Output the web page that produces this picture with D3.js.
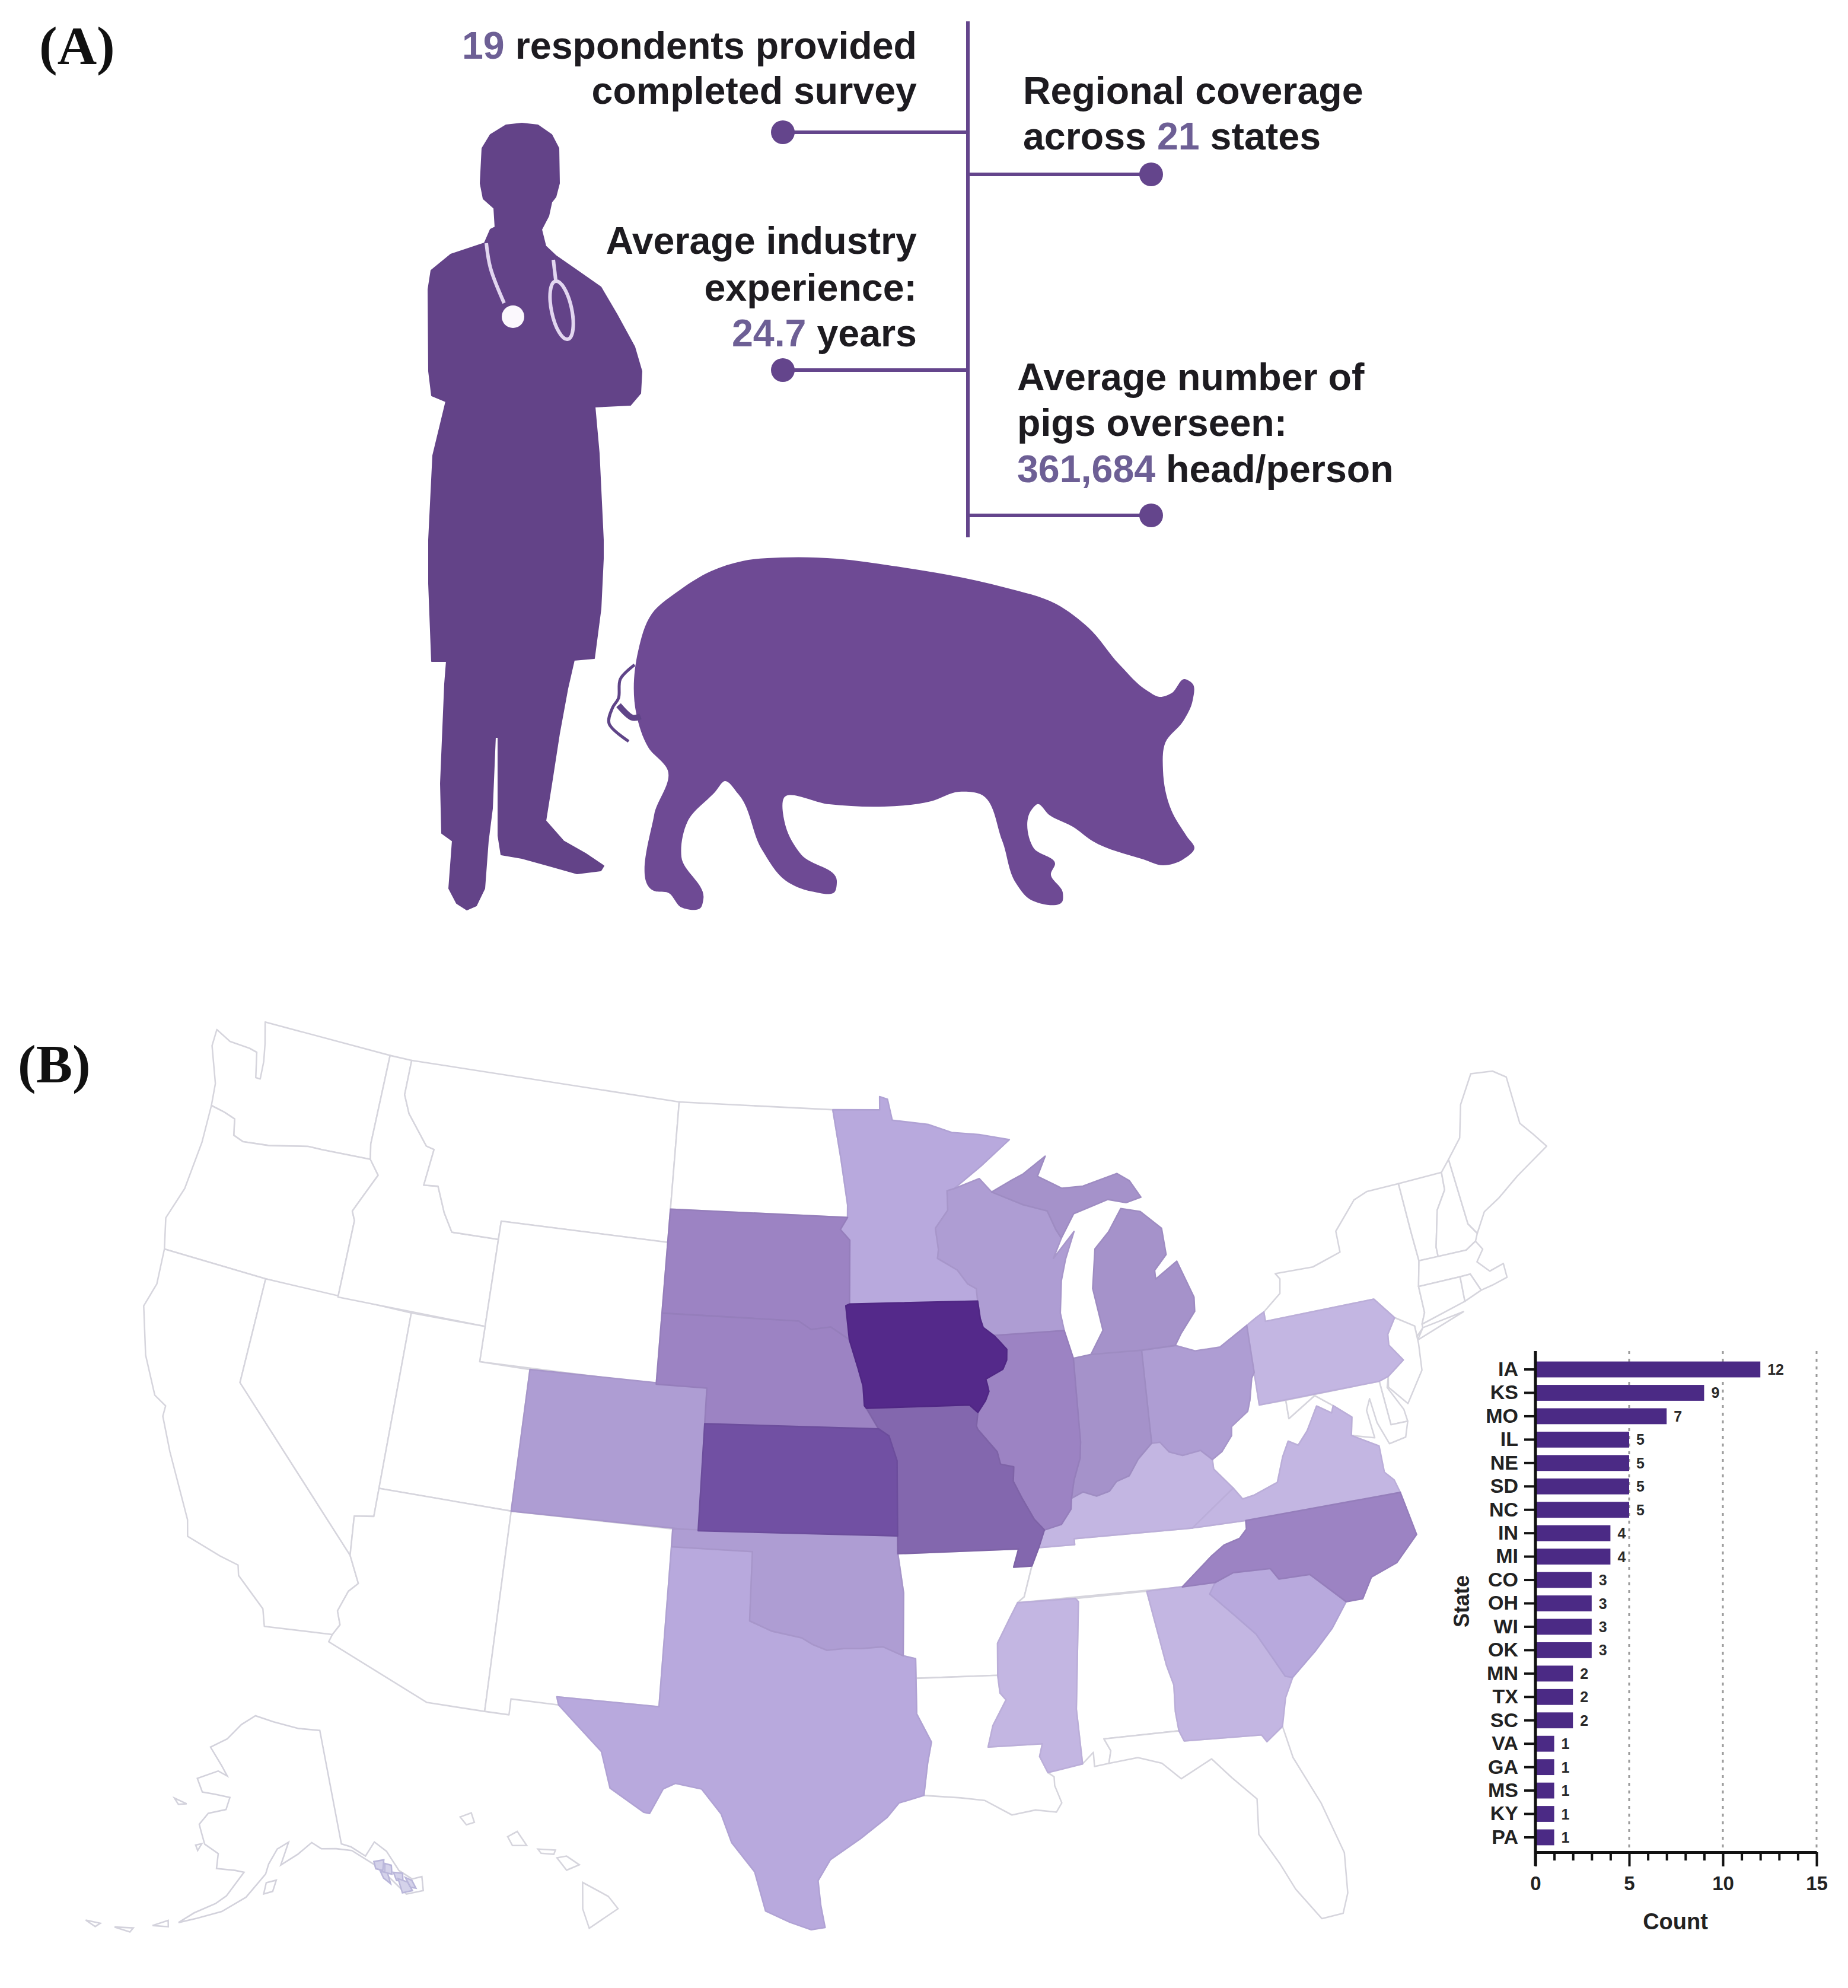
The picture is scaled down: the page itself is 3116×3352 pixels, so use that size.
<!DOCTYPE html>
<html>
<head>
<meta charset="utf-8">
<script src="https://cdnjs.cloudflare.com/ajax/libs/d3/7.8.5/d3.min.js"></script>
<style>
  body { margin: 0; background: #fff; }
  text { font-family: "Liberation Sans", Arial, sans-serif; }
</style>
</head>
<body>
<svg id="chart" width="3116" height="3352"></svg>
<script>
// bar chart values
const stateCodes = ["IA","KS","MO","IL","NE","SD","NC","IN","MI","CO","OH","WI","OK","MN","TX","SC","VA","GA","MS","KY","PA"];
const stateCounts = [12,9,7,5,5,5,5,4,4,3,3,3,3,2,2,2,1,1,1,1,1];
const countTicks = [0,5,10,15];
const countMinorTicks = [1,2,3,4,6,7,8,9,11,12,13,14];
const gridTicks = [5,10,15];

// survey text, [number, rest] pieces
const leftLines = [
  [["19",true],[" respondents provided",false]],
  [["completed survey",false]],
  [["Average industry",false]],
  [["experience:",false]],
  [["24.7",true],[" years",false]]
];
const rightLines = [
  [["Regional coverage",false]],
  [["across ",false],["21",true],[" states",false]],
  [["Average number of",false]],
  [["pigs overseen:",false]],
  [["361,684",true],[" head/person",false]]
];

// shared borders (lon, lat)
const mnWi = [[-92.0,46.7],[-92.3,46.65],[-92.3,46.1],[-92.85,45.6],[-92.75,45.0],[-92.8,44.75],[-92.0,44.4],[-91.6,44.0],[-91.25,43.85],[-91.22,43.5]];
const iaWi = [[-91.22,43.5],[-91.15,43.0],[-91.05,42.75],[-90.64,42.51]];
const iaIl = [[-90.64,42.51],[-90.42,42.33],[-90.15,42.1],[-90.18,41.8],[-90.35,41.55],[-91.05,41.3],[-91.0,41.15],[-90.95,40.95],[-91.1,40.7],[-91.42,40.38]];
const moIl = [[-91.42,40.38],[-91.5,40.0],[-91.45,39.9],[-90.75,39.25],[-90.65,38.9],[-90.15,38.8],[-90.2,38.4],[-89.9,37.9],[-89.5,37.3],[-89.15,36.98]];
const arTn = [[-89.7,36.0],[-90.05,35.15],[-90.3,35.0]];
const arMs = [[-90.3,35.0],[-90.6,34.6],[-91.1,33.9],[-91.15,33.0]];
const laMs = [[-91.15,33.0],[-91.1,32.5],[-90.9,32.3],[-91.4,31.6],[-91.6,31.0],[-89.73,31.0],[-89.85,30.65],[-89.6,30.18]];
const ilKy = [[-89.15,36.98],[-88.5,37.1],[-88.1,37.5],[-88.05,37.8]];
const inKy = [[-88.05,37.8],[-87.6,37.95],[-87.1,37.8],[-86.6,37.9],[-86.3,38.15],[-85.8,38.27],[-85.4,38.7],[-84.82,39.1]];
const ohKy = [[-84.82,39.1],[-84.5,39.1],[-84.2,38.8],[-83.7,38.65],[-83.0,38.72],[-82.6,38.42]];
const ohWv = [[-82.6,38.42],[-82.2,38.6],[-81.75,39.0],[-81.7,39.25],[-81.0,39.6],[-80.85,39.9],[-80.65,40.5],[-80.52,40.64]];
const back = a => a.slice().reverse();

// state outlines (lon, lat)
const WA = [[-124.7,48.38],[-124.0,48.17],[-123.1,48.15],[-122.75,48.1],[-122.5,47.4],[-122.3,47.4],[-122.35,47.9],[-122.5,48.4],[-122.75,49.0],[-117.03,49.0],[-117.04,46.42],[-116.92,45.99],[-119.0,45.93],[-119.6,45.92],[-121.2,45.65],[-122.3,45.55],[-122.75,45.65],[-122.9,46.1],[-123.4,46.2],[-124.0,46.27],[-124.1,46.9],[-124.7,47.9]];
const OR = [[-124.0,46.27],[-123.4,46.2],[-122.9,46.1],[-122.75,45.65],[-122.3,45.55],[-121.2,45.65],[-119.6,45.92],[-119.0,45.93],[-116.92,45.99],[-116.46,45.6],[-116.85,45.0],[-117.2,44.45],[-117.03,44.2],[-117.03,42.0],[-120,42],[-124.2,42],[-124.5,42.85],[-124.1,43.8],[-123.95,45.2]];
const CA = [[-124.2,42],[-120,42],[-120,39],[-114.63,35.0],[-114.15,34.27],[-114.45,34.0],[-114.7,33.4],[-114.52,33.03],[-114.72,32.72],[-117.12,32.53],[-117.3,33.0],[-118.4,33.75],[-118.5,34.03],[-119.2,34.15],[-120.5,34.45],[-120.65,34.9],[-121.9,36.6],[-122.5,37.5],[-122.5,37.8],[-123.0,38.0],[-123.75,39.0],[-124.35,40.3],[-124.1,41.0]];
const NV = [[-120,42],[-114.04,42],[-114.04,36.2],[-114.75,36.1],[-114.63,35.0],[-120,39]];
const ID = [[-117.03,49],[-116.05,49],[-116.05,48.0],[-115.7,47.5],[-114.7,46.7],[-114.35,46.65],[-114.5,45.6],[-113.9,45.65],[-113.45,44.95],[-113.0,44.45],[-111.05,44.48],[-111.05,42],[-117.03,42],[-117.03,44.2],[-117.2,44.45],[-116.85,45.0],[-116.46,45.6],[-116.92,45.99],[-117.04,46.42]];
const MT = [[-116.05,49],[-104.05,49],[-104.05,45],[-111.05,45],[-111.05,44.48],[-113.0,44.45],[-113.45,44.95],[-113.9,45.65],[-114.5,45.6],[-114.35,46.65],[-114.7,46.7],[-115.7,47.5],[-116.05,48.0]];
const WY = [[-111.05,45],[-104.05,45],[-104.05,41],[-111.05,41]];
const UT = [[-114.04,42],[-111.05,42],[-111.05,41],[-109.05,41],[-109.05,37],[-114.04,37]];
const AZ = [[-114.04,37],[-109.05,37],[-109.05,31.33],[-111.07,31.33],[-114.8,32.5],[-114.72,32.72],[-114.52,33.03],[-114.7,33.4],[-114.45,34.0],[-114.15,34.27],[-114.63,35.0],[-114.75,36.1],[-114.04,36.2]];
const CO = [[-109.05,41],[-102.05,41],[-102.05,37],[-109.05,37]];
const NM = [[-109.05,37],[-103.0,37],[-103.04,32],[-106.62,32],[-106.53,31.78],[-108.2,31.78],[-108.2,31.33],[-109.05,31.33]];
const ND = [[-104.05,49],[-97.23,49],[-96.85,47.6],[-96.55,46.3],[-96.55,45.94],[-104.05,45.94]];
const SD = [[-104.05,45.94],[-96.55,45.94],[-96.85,45.6],[-96.45,45.3],[-96.45,43.5],[-96.6,43.45],[-96.45,42.5],[-97.2,42.85],[-98.0,42.77],[-98.5,43.0],[-104.05,43]];
const NE = [[-104.05,43],[-98.5,43.0],[-98.0,42.77],[-97.2,42.85],[-96.45,42.5],[-96.1,41.7],[-95.9,41.2],[-95.85,40.65],[-95.3,40],[-102.05,40],[-102.05,41],[-104.05,41]];
const KS = [[-102.05,40],[-95.3,40],[-94.9,39.8],[-94.6,39.1],[-94.62,37],[-102.05,37]];
const OK = [[-103,37],[-94.62,37],[-94.62,36.5],[-94.43,35.4],[-94.48,33.64],[-95.2,33.9],[-96.0,33.85],[-96.6,33.85],[-97.2,33.8],[-97.7,33.95],[-98.1,34.13],[-99.2,34.3],[-100,34.56],[-100,36.5],[-103,36.5]];
const TX = [[-103,36.5],[-100,36.5],[-100,34.56],[-99.2,34.3],[-98.1,34.13],[-97.7,33.95],[-97.2,33.8],[-96.6,33.85],[-96,33.85],[-95.2,33.9],[-94.48,33.64],[-94.04,33.55],[-94.04,33.0],[-94.04,32.0],[-93.55,31.2],[-93.7,30.6],[-93.85,29.7],[-94.7,29.5],[-95.1,29.1],[-96.0,28.5],[-97.0,27.9],[-97.4,27.3],[-97.3,26.6],[-97.15,25.97],[-97.6,25.9],[-98.3,26.1],[-99.1,26.4],[-99.5,27.5],[-100.3,28.3],[-100.7,29.1],[-101.4,29.77],[-102.3,29.88],[-102.7,29.7],[-103.1,28.98],[-103.3,29.0],[-104.5,29.6],[-104.9,30.6],[-106.0,31.4],[-106.53,31.78],[-106.62,32],[-103.04,32]];
const MN = [[-97.23,49],[-95.15,49],[-95.15,49.38],[-94.8,49.3],[-94.6,48.7],[-93.0,48.55],[-92.0,48.3],[-90.8,48.2],[-89.5,48.0],[-90.8,47.3],...mnWi,[-96.45,43.5],[-96.45,45.3],[-96.85,45.6],[-96.55,45.94],[-96.55,46.3],[-96.85,47.6]];
const IA = [[-96.45,43.5],...iaWi,...iaIl,[-91.73,40.6],[-95.77,40.58],[-95.85,40.65],[-95.9,41.2],[-96.1,41.7],[-96.45,42.5],[-96.6,43.45]];
const MO = [[-95.77,40.58],[-91.73,40.6],...moIl,[-89.4,36.5],[-89.7,36],[-90.37,36],[-90.15,36.5],[-94.62,36.5],[-94.62,37],[-94.6,39.1],[-94.9,39.8],[-95.3,40]];
const AR = [[-94.62,36.5],[-90.15,36.5],[-90.37,36],...arTn,...arMs,[-94.04,33.0],[-94.04,33.55],[-94.48,33.64],[-94.43,35.4]];
const LA = [[-94.04,33],...laMs,[-89.4,30.05],[-89.4,29.8],[-89.2,29.3],[-89.4,29.05],[-90.1,29.15],[-90.9,29.05],[-91.8,29.5],[-92.6,29.6],[-93.85,29.7],[-93.7,30.6],[-93.55,31.2],[-94.04,32]];
const WI = [[-92.0,46.7],[-90.9,46.95],[-90.4,46.55],[-89.1,46.13],[-88.1,45.9],[-87.8,45.35],[-87.6,45.1],[-88.0,44.55],[-87.05,45.25],[-87.5,44.5],[-87.75,43.9],[-87.9,43.0],[-87.8,42.5],...back(iaWi),...back(mnWi).slice(1)];
const IL = [[-87.8,42.5],[-87.53,41.7],[-87.53,39.35],[-87.6,38.9],[-87.9,38.3],...back(ilKy),...back(moIl).slice(1),...back(iaIl).slice(1)];
const IN = [[-87.53,41.7],[-86.82,41.76],[-84.8,41.76],...back(inKy),[-87.9,38.3],[-87.6,38.9],[-87.53,39.35]];
const OH = [[-84.8,41.72],[-83.45,41.73],[-82.7,41.5],[-81.7,41.5],[-80.52,41.98],...back(ohWv),...back(ohKy).slice(1)];
const KY = [...ilKy,...inKy.slice(1),...ohKy.slice(1),[-82.6,38.15],[-81.97,37.54],[-83.67,36.6],[-88.07,36.67],[-88.07,36.5],[-89.4,36.5]];
const TN = [[-89.7,36],[-89.4,36.5],[-88.07,36.5],[-88.07,36.67],[-83.67,36.6],[-81.68,36.59],[-81.7,36.35],[-82.0,36.12],[-82.6,36.0],[-83.1,35.75],[-84.3,35.0],[-90.3,35.0],[-90.05,35.15]];
const MS = [[-90.3,35],[-88.2,35],[-88.1,34.9],[-88.47,31.9],[-88.4,30.35],...back(laMs).slice(0,-1),[-91.15,33],[-91.1,33.9],[-90.6,34.6]];
const AL = [[-88.2,35],[-85.6,35],[-85.18,32.87],[-85.0,32.3],[-85.05,31.55],[-85.0,31.0],[-87.6,31.0],[-87.4,30.65],[-87.5,30.3],[-88.0,30.25],[-88.0,30.65],[-88.4,30.35],[-88.47,31.9],[-88.1,34.9]];
const GA = [[-85.6,35],[-83.1,35],[-83.35,34.7],[-82.55,34.0],[-81.9,33.4],[-81.4,32.6],[-81.1,32.1],[-80.85,32.03],[-81.2,31.5],[-81.45,30.72],[-82.05,30.36],[-82.2,30.57],[-84.86,30.7],[-85,31],[-85.05,31.55],[-85,32.3],[-85.18,32.87]];
const FL = [[-87.6,31],[-85,31],[-84.86,30.7],[-82.2,30.57],[-82.05,30.36],[-81.45,30.72],[-81.25,29.8],[-80.55,28.4],[-80.05,26.9],[-80.15,25.75],[-80.4,25.2],[-81.1,25.15],[-81.8,26.1],[-82.2,26.9],[-82.75,27.8],[-82.65,28.8],[-83.4,29.5],[-84.0,30.1],[-85.1,29.65],[-85.7,30.15],[-86.5,30.38],[-87.5,30.3],[-87.4,30.65]];
const SC = [[-83.1,35],[-82.4,35.2],[-81.05,35.15],[-80.8,34.82],[-79.67,34.8],[-78.55,33.86],[-79.2,33.2],[-79.9,32.67],[-80.85,32.03],[-81.1,32.1],[-81.4,32.6],[-81.9,33.4],[-82.55,34.0],[-83.35,34.7]];
const NC = [[-84.3,35],[-83.1,35.75],[-82.6,36.0],[-82,36.12],[-81.7,36.35],[-81.68,36.59],[-75.87,36.55],[-75.6,35.3],[-76.5,34.65],[-77.5,34.4],[-77.95,33.85],[-78.55,33.86],[-79.67,34.8],[-80.8,34.82],[-81.05,35.15],[-82.4,35.2],[-83.1,35]];
const VA = [[-83.67,36.6],[-81.97,37.54],[-81.68,37.2],[-81.25,37.25],[-80.3,37.5],[-79.95,38.18],[-79.65,38.58],[-79.3,38.42],[-78.87,38.77],[-78.35,39.4],[-77.83,39.13],[-77.72,39.32],[-77.1,38.9],[-77.25,38.4],[-76.3,37.95],[-76.3,37.2],[-76.0,36.93],[-75.87,36.55],[-81.68,36.59]];
const WV = [...ohWv,[-80.52,39.72],[-79.48,39.72],[-79.48,39.2],[-78.35,39.7],[-77.72,39.32],[-77.83,39.13],[-78.35,39.4],[-78.87,38.77],[-79.3,38.42],[-79.65,38.58],[-79.95,38.18],[-80.3,37.5],[-81.25,37.25],[-81.68,37.2],[-81.97,37.54],[-82.6,38.15]];
const PA = [[-80.52,41.98],[-80.1,42.15],[-79.76,42.27],[-79.76,42],[-75.35,42],[-74.7,41.36],[-75.1,40.95],[-75.15,40.65],[-74.72,40.15],[-75.42,39.8],[-75.8,39.72],[-80.52,39.72]];
const NY = [[-79.76,42.27],[-79.0,42.7],[-78.9,43.1],[-79.05,43.27],[-77.5,43.25],[-76.3,43.5],[-76.3,44.1],[-75.3,44.85],[-74.7,45],[-73.35,45],[-73.3,43.6],[-73.25,42.75],[-73.5,42.05],[-73.5,41.3],[-73.7,41.0],[-73.7,40.9],[-74.0,40.7],[-74.0,41.0],[-74.7,41.36],[-75.35,42],[-79.76,42]];
const LI = [[-74.0,40.6],[-72.0,41.05],[-73.7,40.9]];
const VT = [[-73.35,45],[-71.5,45],[-71.55,44.5],[-72.05,44.0],[-72.45,43.0],[-72.46,42.73],[-73.25,42.75],[-73.3,43.6]];
const NH = [[-71.5,45],[-71.08,45.3],[-70.97,43.4],[-70.7,43.07],[-70.85,42.87],[-71.3,42.7],[-72.46,42.73],[-72.45,43.0],[-72.05,44.0],[-71.55,44.5]];
const ME = [[-71.08,45.3],[-70.4,45.8],[-70.0,46.7],[-69.23,47.46],[-68.3,47.35],[-67.8,47.07],[-67.8,45.7],[-67.4,45.3],[-67.0,44.85],[-68.5,44.3],[-69.5,43.85],[-70.2,43.6],[-70.7,43.07],[-70.97,43.4]];
const MA = [[-73.5,42.05],[-73.25,42.75],[-71.3,42.7],[-70.85,42.87],[-70.65,42.6],[-71.0,42.3],[-70.6,41.95],[-70.0,42.05],[-70.0,41.65],[-70.65,41.55],[-71.12,41.5],[-71.38,42.02],[-71.8,42.02]];
const CT = [[-73.5,42.05],[-71.8,42.02],[-71.85,41.32],[-73.7,41.0],[-73.5,41.3]];
const RI = [[-71.8,42.02],[-71.38,42.02],[-71.12,41.5],[-71.85,41.32]];
const NJ = [[-74.7,41.36],[-74.0,41.0],[-74.0,40.5],[-74.1,39.75],[-74.9,38.93],[-75.5,39.5],[-75.42,39.8],[-74.72,40.15],[-75.15,40.65],[-75.1,40.95]];
const DE = [[-75.8,39.72],[-75.42,39.8],[-75.55,39.5],[-75.1,38.8],[-75.05,38.45],[-75.7,38.46]];
const MD = [[-79.48,39.72],[-75.8,39.72],[-75.7,38.46],[-75.05,38.45],[-75.25,38.03],[-75.9,37.95],[-76.2,38.6],[-76.3,39.3],[-76.5,39.0],[-76.4,38.2],[-77.25,38.4],[-77.1,38.9],[-77.72,39.32],[-78.35,39.7],[-79.48,39.2]];
const MIlower = [[-86.82,41.76],[-86.25,42.4],[-86.5,43.6],[-86.25,44.7],[-85.6,45.15],[-85.0,45.75],[-84.2,45.6],[-83.4,45.05],[-83.35,44.3],[-83.9,43.9],[-83.9,43.65],[-82.95,44.07],[-82.45,43.0],[-82.5,42.6],[-83.15,42.05],[-83.45,41.73],[-84.8,41.72]];
const MIupper = [[-90.4,46.55],[-89.1,46.13],[-88.1,45.9],[-87.8,45.35],[-87.6,45.1],[-87.0,45.75],[-85.5,46.05],[-84.75,45.9],[-84.1,46.0],[-84.5,46.5],[-85.0,46.75],[-86.5,46.5],[-87.4,46.5],[-88.4,46.9],[-88.0,47.45],[-89.0,47.0],[-89.5,46.85]];
const AK = [[-141,69.65],[-141,60.3],[-139.5,59.9],[-137.5,58.9],[-135.5,59.8],[-134,58.8],[-133,57],[-131.5,56],[-130,55.9],[-130.5,54.8],[-133,55],[-134.5,56.5],[-136,57.8],[-137.5,58.6],[-139.5,59.6],[-142,60],[-144.5,60.2],[-146,60.8],[-148.5,60],[-151.5,59.2],[-150,61],[-152,60.5],[-153.5,59.3],[-154,58.5],[-157,56.6],[-160.5,55.3],[-164,54.5],[-166.5,53.9],[-164.5,54.9],[-161.5,55.9],[-160,56.6],[-157.5,58.6],[-159,58.7],[-162,58.7],[-162,59.9],[-164.5,60.5],[-165.5,61.5],[-166,62],[-164.7,63],[-161.5,63.5],[-161,64.5],[-164,64.6],[-166.5,64.6],[-168,65.6],[-164,66.5],[-162,66.2],[-163.5,67],[-166.5,68.3],[-163,69.2],[-160,70.5],[-156.6,71.3],[-152,70.8],[-146,70.1]];
const akIslands = [
  [[-153.9,57.8],[-152.3,58],[-152.9,57.1],[-154.3,56.9]],
  [[-170,53.2],[-168,53.9],[-167.8,53.4]],
  [[-175,52.2],[-172.5,52.6],[-172.8,52.2]],
  [[-179,51.9],[-177,52.1],[-177.5,51.7]],
  [[-166,60.3],[-165,60.5],[-165.5,59.9]],
  [[-171.5,63.6],[-169,63.4],[-170.5,63.2]]
];
const akPanhandleIslands = [
  [[-136.4,58.3],[-134.8,58.2],[-135.4,57.4],[-136.4,57.7]],
  [[-134.8,57.9],[-133.9,57.6],[-134.2,56.9],[-135.2,57.2]],
  [[-135.8,57.4],[-134.8,57.1],[-134.8,56.2],[-135.6,56.8]],
  [[-133.9,57],[-132.6,56.7],[-132.9,56.1],[-133.8,56.3]],
  [[-133.5,56.4],[-132.3,55.9],[-132,55.1],[-133.5,55.2]],
  [[-132.4,56.3],[-131.6,55.9],[-131.4,55.2],[-132.1,55.4]]
];
const hiIslands = [
  [[-159.75,22.1],[-159.4,22.22],[-159.3,21.95],[-159.55,21.88]],
  [[-158.25,21.55],[-157.95,21.7],[-157.65,21.3],[-158.1,21.3]],
  [[-157.3,21.2],[-156.75,21.17],[-156.8,21.05],[-157.2,21.08]],
  [[-156.7,20.95],[-156.4,21.0],[-156.0,20.75],[-156.4,20.6]],
  [[-155.9,20.25],[-155.1,19.85],[-154.8,19.5],[-155.7,18.95],[-155.9,19.5]]
];

const contiguous = [["WA",WA],["OR",OR],["CA",CA],["NV",NV],["ID",ID],["MT",MT],["WY",WY],["UT",UT],["AZ",AZ],["CO",CO],["NM",NM],["ND",ND],["SD",SD],["NE",NE],["KS",KS],["OK",OK],["TX",TX],["MN",MN],["IA",IA],["MO",MO],["AR",AR],["LA",LA],["WI",WI],["IL",IL],["IN",IN],["OH",OH],["KY",KY],["TN",TN],["MS",MS],["AL",AL],["GA",GA],["FL",FL],["SC",SC],["NC",NC],["VA",VA],["WV",WV],["PA",PA],["NY",NY],["NY",LI],["VT",VT],["NH",NH],["ME",ME],["MA",MA],["CT",CT],["RI",RI],["NJ",NJ],["DE",DE],["MD",MD],["MI",MIlower],["MI",MIupper]];

// silhouettes, page pixels
const doctorOutline = [[880,208],[907,211],[930,227],[942,250],[943,309],[937,332],[930,341],[925,364],[913,387],[920,415],[937,431],[973,456],[1013,484],[1040,530],[1070,585],[1082,626],[1080,663],[1063,683],[1003,686],[1010,764],[1017,910],[1017,942],[1013,1026],[1002,1110],[968,1113],[957,1161],[943,1237],[930,1321],[920,1384],[950,1418],[987,1439],[1018,1460],[1013,1468],[973,1473],[927,1460],[880,1447],[845,1441],[840,1409],[840,1243],[835,1243],[830,1363],[823,1418],[817,1498],[803,1527],[787,1534],[770,1523],[757,1498],[763,1418],[745,1405],[743,1321],[750,1153],[753,1115],[728,1115],[723,984],[723,910],[730,768],[752,677],[728,667],[723,626],[722,488],[727,456],[760,429],[817,410],[827,387],[835,383],[833,351],[815,335],[810,309],[813,250],[827,227],[853,211]];
const pigOutline = [[1318,940],[1411,942],[1504,954],[1597,969],[1696,991],[1782,1019],[1835,1058],[1888,1121],[1935,1165],[1955,1175],[1975,1169],[1998,1145],[2011,1153],[2011,1181],[1995,1216],[1965,1252],[1961,1299],[1975,1366],[2001,1410],[2014,1430],[1995,1449],[1961,1459],[1928,1449],[1842,1418],[1809,1394],[1769,1374],[1749,1356],[1739,1366],[1743,1430],[1779,1457],[1772,1473],[1792,1505],[1792,1518],[1736,1516],[1713,1489],[1690,1418],[1653,1339],[1617,1335],[1570,1351],[1491,1360],[1398,1356],[1322,1345],[1325,1394],[1351,1441],[1411,1485],[1408,1503],[1368,1503],[1325,1485],[1285,1433],[1245,1339],[1222,1317],[1206,1335],[1159,1386],[1149,1445],[1186,1516],[1182,1530],[1149,1530],[1126,1505],[1106,1503],[1103,1374],[1126,1299],[1093,1260],[1073,1204],[1076,1098],[1099,1035],[1146,995],[1199,963],[1252,946]];
const pigTail = [[1070,1121],[1046,1145],[1043,1177],[1033,1193],[1027,1220],[1060,1250]];
const pigKnot = [[1043,1189],[1066,1210],[1080,1208]];
const tubeLeft = [[820,410],[827,452],[850,511]];
const tubeRight = [[933,438],[937,472]];

const ink = "#1d1b20";
const purple = "#64458c";
const doctorColor = "#634388";
const pigColor = "#6e4a94";
const numberColor = "#6d5f95";
const tubeColor = "#e2d6f0";
const svg = d3.select("#chart");

// ---- panel letters
svg.append("text").attr("x", 66).attr("y", 108).text("(A)")
  .style("font-family", "'Liberation Serif', serif").style("font-weight", 700).style("font-size", "92px").attr("fill", "#111");
svg.append("text").attr("x", 30).attr("y", 1825).text("(B)")
  .style("font-family", "'Liberation Serif', serif").style("font-weight", 700).style("font-size", "92px").attr("fill", "#111");

// ---- panel A
const art = svg.append("g");
const straight = d3.line();
const smooth = d3.line().curve(d3.curveCatmullRomClosed.alpha(1));
const open = d3.line().curve(d3.curveCatmullRom.alpha(0.5));
art.append("path").attr("d", straight(doctorOutline) + "Z").attr("fill", doctorColor).attr("stroke", doctorColor).attr("stroke-width", 2).attr("stroke-linejoin", "round");
art.append("path").attr("d", smooth(pigOutline)).attr("fill", pigColor);
art.append("path").attr("d", open(pigTail)).attr("fill", "none").attr("stroke", "#5f4488").attr("stroke-width", 5);
art.append("path").attr("d", open(pigKnot)).attr("fill", "none").attr("stroke", "#5f4488").attr("stroke-width", 10);
art.selectAll("path.tube").data([tubeLeft, tubeRight]).enter().append("path").attr("class", "tube")
  .attr("d", open).attr("fill", "none").attr("stroke", tubeColor).attr("stroke-width", 6);
art.append("circle").attr("cx", 865).attr("cy", 534).attr("r", 19).attr("fill", "#fbf8fd");
art.append("ellipse").attr("transform", "translate(947,523) rotate(-12)").attr("rx", 17).attr("ry", 50)
  .attr("fill", "none").attr("stroke", tubeColor).attr("stroke-width", 6);

const stemX = 1632, leftDotX = 1320, rightDotX = 1941;
const branches = [[223, leftDotX], [624, leftDotX], [294, rightDotX], [869, rightDotX]];
svg.append("line").attr("x1", stemX).attr("x2", stemX).attr("y1", 36).attr("y2", 906).attr("stroke", purple).attr("stroke-width", 6);
svg.selectAll("line.branch").data(branches).enter().append("line").attr("class", "branch")
  .attr("x1", stemX).attr("x2", d => d[1]).attr("y1", d => d[0]).attr("y2", d => d[0])
  .attr("stroke", purple).attr("stroke-width", 6);
svg.selectAll("circle.end").data(branches).enter().append("circle").attr("class", "end")
  .attr("cx", d => d[1]).attr("cy", d => d[0]).attr("r", 20).attr("fill", purple);

function textBlock(lines, baselines, x, anchor) {
  const t = svg.selectAll(null).data(lines).enter().append("text")
    .attr("x", x).attr("y", (d, i) => baselines[i]).attr("text-anchor", anchor)
    .style("font-size", "64.5px").style("font-weight", 700).attr("fill", ink);
  t.selectAll("tspan").data(d => d).enter().append("tspan")
    .attr("xml:space", "preserve").style("white-space", "pre")
    .attr("fill", d => d[1] ? numberColor : ink).text(d => d[0]);
}
textBlock(leftLines, [99, 175, 428, 507, 584], 1546, "end");
textBlock(rightLines.slice(0, 2), [175, 252], 1725, "start");
textBlock(rightLines.slice(2), [658, 735, 813], 1715, "start");

// ---- panel B map
const mapY = 2560, yStretch = 1.0427;
const albers = d3.geoAlbers().rotate([96, 0]).center([0, 37.5]).parallels([29.5, 45.5]).scale(3280).translate([1451, 0]);
const alaska = d3.geoConicEqualArea().rotate([154, 0]).center([-2, 58.5]).parallels([55, 65]).scale(1148).translate([427, 575]);
const hawaii = d3.geoConicEqualArea().rotate([157, 0]).center([-3, 19.9]).parallels([8, 18]).scale(3280).translate([761, 608]);
const shape = proj => d3.line().x(d => proj(d)[0]).y(d => proj(d)[1]);

const countByState = new Map(stateCodes.map((s, i) => [s, stateCounts[i]]));
const shade = d3.scaleLinear()
  .domain([0, 1, 2, 3, 4, 5, 7, 9, 12])
  .range(["#ffffff", "#c3b6e2", "#b8a9dd", "#ae9dd3", "#a592ca", "#9c83c3", "#8367ae", "#7150a3", "#54298a"]);

svg.append("clipPath").attr("id", "mapFrame").append("rect").attr("x", 0).attr("y", 1650).attr("width", 3116).attr("height", 1618);
const map = svg.append("g").attr("clip-path", "url(#mapFrame)")
  .append("g").attr("transform", `translate(0,${mapY}) scale(1,${yStretch})`);
const ordered = contiguous.slice().sort((a, b) => (countByState.get(a[0]) || 0) - (countByState.get(b[0]) || 0));
map.selectAll("path.state").data(ordered).enter().append("path").attr("class", "state")
  .attr("d", d => shape(albers)(d[1]) + "Z")
  .attr("fill", d => shade(countByState.get(d[0]) || 0))
  .attr("stroke", d => countByState.has(d[0]) ? d3.color(shade(countByState.get(d[0]))).darker(0.12) : "#d6d5dd")
  .attr("stroke-width", 2.5).attr("stroke-linejoin", "round");
map.selectAll("path.ak").data([AK, ...akIslands]).enter().append("path").attr("class", "ak")
  .attr("d", d => shape(alaska)(d) + "Z").attr("fill", "#fff").attr("stroke", "#d3d2dc").attr("stroke-width", 2.5);
map.selectAll("path.akp").data(akPanhandleIslands).enter().append("path").attr("class", "akp")
  .attr("d", d => shape(alaska)(d) + "Z").attr("fill", "#d4d2ea").attr("stroke", "#b9b6da").attr("stroke-width", 2.5);
map.selectAll("path.hi").data(hiIslands).enter().append("path").attr("class", "hi")
  .attr("d", d => shape(hawaii)(d) + "Z").attr("fill", "#fff").attr("stroke", "#d6d5dd").attr("stroke-width", 2.5);

// ---- panel B bars
const x = d3.scaleLinear().domain([0, 15]).range([2589, 3063]);
const y = d3.scaleBand().domain(stateCodes).range([2283, 3124]).padding(0.32);
const axisY = 3123, axisColor = "#111";

svg.append("g").selectAll("line").data(gridTicks).enter().append("line")
  .attr("x1", d => x(d)).attr("x2", d => x(d)).attr("y1", 2278).attr("y2", axisY)
  .attr("stroke", "#9a9a9a").attr("stroke-width", 3).attr("stroke-dasharray", "5 8");

svg.append("g").selectAll("rect").data(stateCodes).enter().append("rect")
  .attr("x", x(0)).attr("y", d => y(d)).attr("height", y.bandwidth())
  .attr("width", (d, i) => x(stateCounts[i]) - x(0)).attr("fill", "#4b2a85");

svg.append("g").selectAll("text").data(stateCodes).enter().append("text")
  .attr("x", (d, i) => x(stateCounts[i]) + 12).attr("y", d => y(d) + y.bandwidth() / 2)
  .attr("dy", "0.36em").style("font-size", "25px").style("font-weight", 700).attr("fill", "#2a2a2a")
  .text((d, i) => stateCounts[i]);

const yAxis = svg.append("g").attr("transform", `translate(${x(0)},0)`)
  .call(d3.axisLeft(y).tickSize(19).tickPadding(10));
yAxis.select(".domain").remove();
yAxis.selectAll("line").attr("stroke", axisColor).attr("stroke-width", 4);
yAxis.selectAll("text").style("font-size", "34px").style("font-weight", 700).attr("fill", "#222");
svg.append("line").attr("x1", x(0)).attr("x2", x(0)).attr("y1", 2278).attr("y2", 3146).attr("stroke", axisColor).attr("stroke-width", 5);

const xAxis = svg.append("g").attr("transform", `translate(0,${axisY})`)
  .call(d3.axisBottom(x).tickValues(countTicks).tickSize(24).tickPadding(17).tickSizeOuter(0));
xAxis.select(".domain").attr("stroke", axisColor).attr("stroke-width", 5);
xAxis.selectAll("line").attr("stroke", axisColor).attr("stroke-width", 4);
xAxis.selectAll("text").style("font-size", "33px").style("font-weight", 700).attr("fill", "#222");
const xMinor = svg.append("g").attr("transform", `translate(0,${axisY})`)
  .call(d3.axisBottom(x).tickValues(countMinorTicks).tickSize(14).tickFormat(""));
xMinor.select(".domain").remove();
xMinor.selectAll("line").attr("stroke", axisColor).attr("stroke-width", 4);

svg.append("text").attr("x", 2825).attr("y", 3253).attr("text-anchor", "middle")
  .style("font-size", "38px").style("font-weight", 700).attr("fill", "#222").text("Count");
svg.append("text").attr("transform", "translate(2477,2700) rotate(-90)").attr("text-anchor", "middle")
  .style("font-size", "36px").style("font-weight", 700).attr("fill", "#222").text("State");
</script>
</body>
</html>
